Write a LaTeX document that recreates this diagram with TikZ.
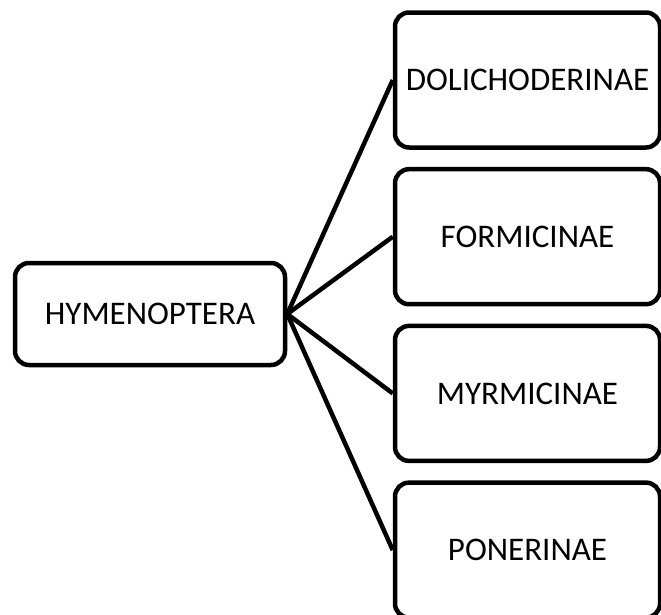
\documentclass[tikz,border=0pt]{standalone}
\usepackage{fontspec}
\setmainfont{Carlito}
\begin{document}
\begin{tikzpicture}[x=1pt,y=-1pt,
  taxon/.style={draw,line width=4.5pt,rounded corners=14pt,inner sep=0pt,
    font=\fontsize{33}{40}\selectfont},
  family/.style={taxon,minimum width=265pt,minimum height=135pt}]
\useasboundingbox (0,0) rectangle (661,614);
\def\u{156.7}
\node[taxon,minimum width=270pt,minimum height=102pt] (hym) at (150,314) {HYMENOPTERA};
\node[family] (dol) at (527.5,80) {DOLICHODERINAE};
\node[family] (for) at (527.5,80+1*\u) {FORMICINAE};
\node[family] (myr) at (527.5,80+2*\u) {MYRMICINAE};
\node[family] (pon) at (527.5,80+3*\u) {PONERINAE};

\foreach \f in {dol,for,myr,pon}
  \draw[line width=4.5pt] (hym.east) -- (\f.west);
\end{tikzpicture}
\end{document}
